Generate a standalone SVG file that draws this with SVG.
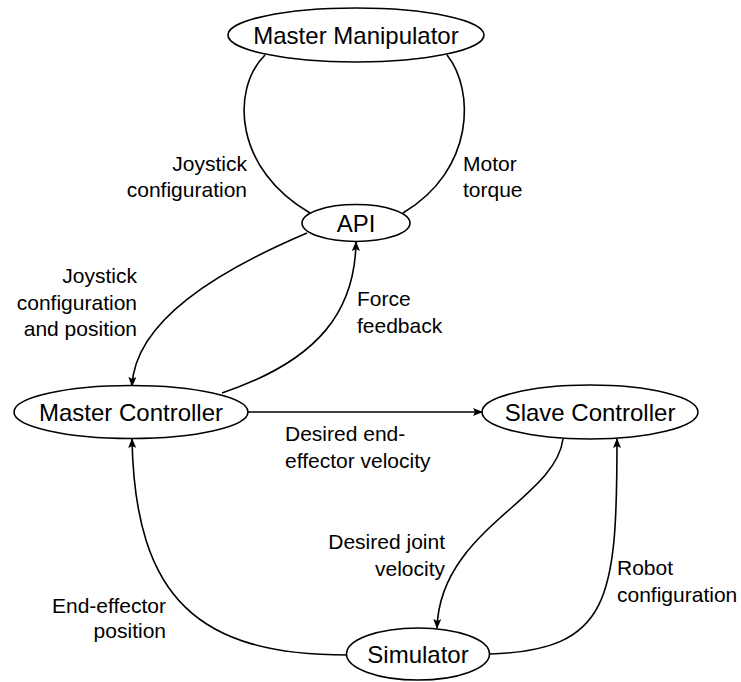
<svg xmlns="http://www.w3.org/2000/svg" width="741" height="682" viewBox="0 0 741 682">
<defs>
<style>
.node ellipse{fill:#fff;stroke:#000;stroke-width:1.6}
.node text{font-family:"Liberation Sans",Arial,sans-serif;font-size:24px;fill:#000;text-anchor:middle}
.edge{fill:none;stroke:#000;stroke-width:1.6}
.arr{marker-end:url(#ah)}
.lbl{font-family:"Liberation Sans",Arial,sans-serif;font-size:21px;fill:#000}
.r{text-anchor:end}
</style>
<marker id="ah" viewBox="0 0 10 8" markerWidth="10" markerHeight="8" refX="9" refY="4" orient="auto" markerUnits="userSpaceOnUse">
<path d="M0,0 L10,4 L0,8 L2,4 z" fill="#000"/>
</marker>
</defs>
<g id="connectors">
<path class="edge" d="M265,55 C230,90 235,170 310,213"/>
<path class="edge" d="M447,55 C475,90 475,170 403,213"/>
<path class="edge arr" d="M307,233 C220,270 135,320 132,386"/>
<path class="edge arr" d="M222,393 C320,360 355,310 356,242"/>
<path class="edge arr" d="M248,412 L482,412"/>
<path class="edge arr" d="M563,439 C555,500 440,530 437,628"/>
<path class="edge arr" d="M490,654 C610,650 617,600 617,439"/>
<path class="edge arr" d="M347,655 C200,655 135,600 132,439"/>
</g>
<g id="labels">
<text class="lbl r" x="247" y="171">Joystick</text>
<text class="lbl r" x="247" y="197">configuration</text>
<text class="lbl" x="463" y="171">Motor</text>
<text class="lbl" x="463" y="197">torque</text>
<text class="lbl r" x="137" y="283">Joystick</text>
<text class="lbl r" x="137" y="310">configuration</text>
<text class="lbl r" x="137" y="336">and position</text>
<text class="lbl" x="357" y="306">Force</text>
<text class="lbl" x="357" y="333">feedback</text>
<text class="lbl" x="285" y="441">Desired end-</text>
<text class="lbl" x="285" y="468">effector velocity</text>
<text class="lbl r" x="445" y="549">Desired joint</text>
<text class="lbl r" x="445" y="576">velocity</text>
<text class="lbl" x="617" y="575">Robot</text>
<text class="lbl" x="617" y="602">configuration</text>
<text class="lbl r" x="166" y="613">End-effector</text>
<text class="lbl r" x="166" y="638">position</text>
</g>
<g id="master-manipulator" class="node">
<ellipse cx="356" cy="35" rx="128" ry="27"/>
<text x="356" y="43.5">Master Manipulator</text>
</g>
<g id="api" class="node">
<ellipse cx="356" cy="223" rx="54" ry="18.5"/>
<text x="356" y="231.5">API</text>
</g>
<g id="master-controller" class="node">
<ellipse cx="131" cy="412" rx="117" ry="26.5"/>
<text x="131" y="420.5">Master Controller</text>
</g>
<g id="slave-controller" class="node">
<ellipse cx="590" cy="412" rx="108" ry="27"/>
<text x="590" y="420.5">Slave Controller</text>
</g>
<g id="simulator" class="node">
<ellipse cx="418" cy="654" rx="71.5" ry="26"/>
<text x="418" y="662.5">Simulator</text>
</g>
</svg>
